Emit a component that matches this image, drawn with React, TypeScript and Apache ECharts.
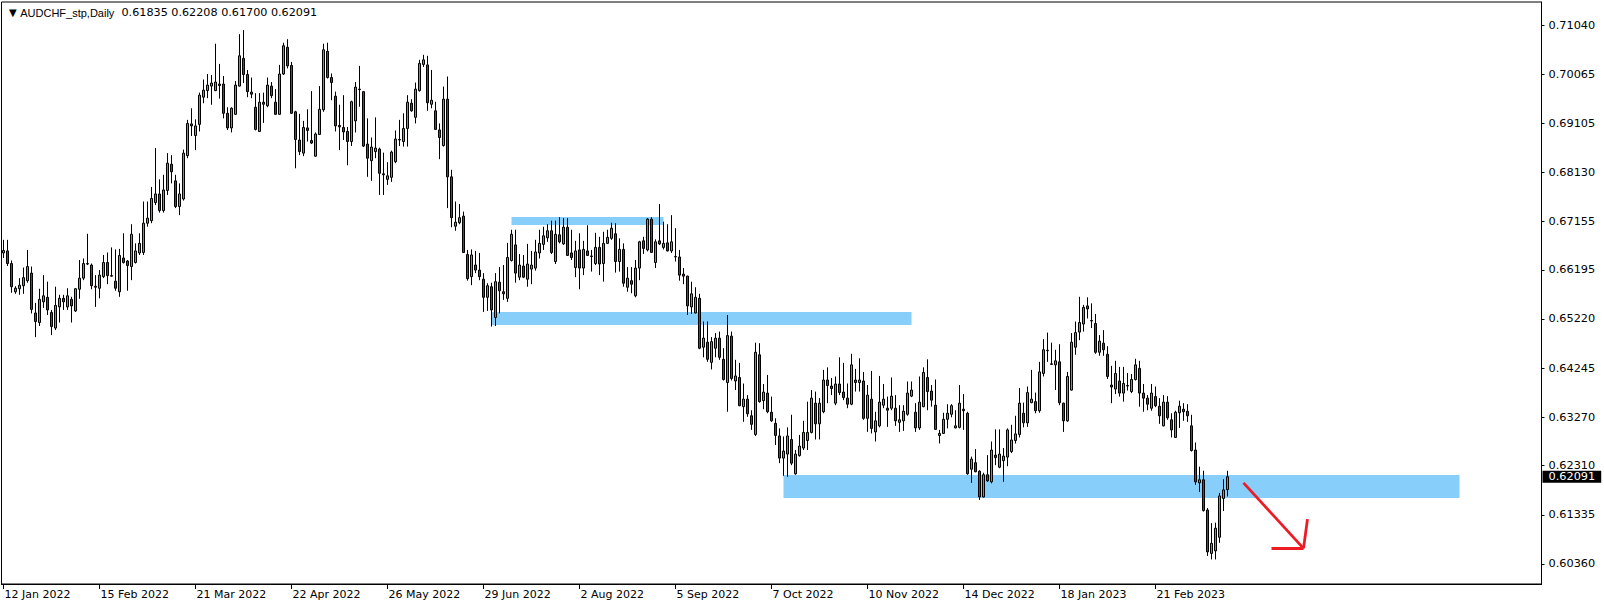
import React, { useEffect, useRef } from "react";
import * as echarts from "echarts";

// ---- data (daily AUDCHF candles) ----
const startDate = "2022-01-12";
const xTickLabels = [
  "12 Jan 2022", "15 Feb 2022", "21 Mar 2022", "22 Apr 2022", "26 May 2022",
  "29 Jun 2022", "2 Aug 2022", "5 Sep 2022", "7 Oct 2022", "10 Nov 2022",
  "14 Dec 2022", "18 Jan 2023", "21 Feb 2023",
];
const yTickLabels = [
  "0.60360", "0.61335", "0.62310", "0.63270", "0.64245", "0.65220",
  "0.66195", "0.67155", "0.68130", "0.69105", "0.70065", "0.71040",
];

const opens = [
  0.6653,0.6657,0.6632,0.6576,0.6582,0.6588,0.6598,0.6613,0.6534,0.6515,
  0.6556,0.6565,0.6535,0.6504,0.6546,0.6563,0.6546,0.6561,0.6538,0.6581,
  0.6603,0.6631,0.6629,0.6587,0.6583,0.6606,0.6634,0.6608,0.6597,0.6576,
  0.6643,0.6637,0.6626,0.6634,0.6653,0.6654,0.6712,0.6717,0.6753,0.6770,
  0.6737,0.6777,0.6829,0.6796,0.6745,0.6760,0.6846,0.6909,0.6886,0.6908,
  0.6962,0.6975,0.6984,0.6975,0.6988,0.6988,0.6930,0.6901,0.6928,0.6984,
  0.7039,0.7007,0.6972,0.6942,0.6894,0.6952,0.6945,0.6984,0.6952,0.6928,
  0.7008,0.7061,0.7025,0.6933,0.6877,0.6851,0.6901,0.6876,0.6845,0.6888,
  0.6937,0.7053,0.7001,0.6964,0.6906,0.6902,0.6894,0.6874,0.6915,0.6978,
  0.6973,0.6869,0.6836,0.6854,0.6859,0.6810,0.6799,0.6803,0.6834,0.6877,
  0.6874,0.6900,0.6950,0.6922,0.6975,0.7027,0.7026,0.6948,0.6935,0.6897,
  0.6866,0.6958,0.6804,0.6706,0.6713,0.6726,0.6650,0.6606,0.6629,0.6619,
  0.6601,0.6565,0.6586,0.6525,0.6595,0.6576,0.6563,0.6638,0.6669,0.6605,
  0.6627,0.6601,0.6621,0.6623,0.6653,0.6670,0.6683,0.6697,0.6636,0.6689,
  0.6671,0.6704,0.6653,0.6624,0.6659,0.6623,0.6657,0.6647,0.6632,0.6664,
  0.6632,0.6672,0.6682,0.6691,0.6636,0.6660,0.6585,0.6598,0.6568,0.6623,
  0.6677,0.6659,0.6720,0.6634,0.6677,0.6664,0.6673,0.6657,0.6646,0.6645,
  0.6611,0.6607,0.6546,0.6534,0.6563,0.6466,0.6476,0.6436,0.6464,0.6484,
  0.6442,0.6396,0.6488,0.6399,0.6406,0.6348,0.6363,0.6330,0.6293,0.6451,
  0.6360,0.6375,0.6337,0.6315,0.6290,0.6246,0.6254,0.6283,0.6215,0.6251,
  0.6266,0.6281,0.6297,0.6355,0.6314,0.6338,0.6401,0.6389,0.6355,0.6393,
  0.6377,0.6365,0.6353,0.6401,0.6396,0.6399,0.6325,0.6363,0.6298,0.6310,
  0.6351,0.6345,0.6345,0.6345,0.6317,0.6320,0.6333,0.6369,0.6337,0.6306,
  0.6348,0.6406,0.6379,0.6351,0.6291,0.6295,0.6323,0.6333,0.6306,0.6307,
  0.6343,0.6335,0.6224,0.6237,0.6220,0.6169,0.6213,0.6199,0.6252,0.6228,
  0.6241,0.6248,0.6259,0.6281,0.6293,0.6335,0.6316,0.6356,0.6358,0.6340,
  0.6414,0.6460,0.6433,0.6431,0.6437,0.6355,0.6320,0.6381,0.6466,0.6496,
  0.6512,0.6548,0.6519,0.6513,0.6456,0.6474,0.6452,0.6391,0.6383,0.6399,
  0.6375,0.6390,0.6378,0.6402,0.6424,0.6375,0.6365,0.6345,0.6368,0.6349,
  0.6310,0.6357,0.6322,0.6287,0.6336,0.6343,0.6339,0.6310,0.6262,0.6197,
  0.6203,0.6143,0.6057,0.6062,0.6089,0.6166,0.61835,
];
const closes = [
  0.6658,0.6632,0.6586,0.6583,0.6589,0.6604,0.6626,0.6541,0.6517,0.6561,
  0.6568,0.6540,0.6507,0.6549,0.6563,0.6556,0.6568,0.6548,0.6582,0.6603,
  0.6632,0.6632,0.6588,0.6585,0.6609,0.6634,0.6608,0.6607,0.6583,0.6648,
  0.6634,0.6628,0.6690,0.6657,0.6672,0.6712,0.6722,0.6761,0.6770,0.6737,
  0.6778,0.6831,0.6814,0.6745,0.6770,0.6851,0.6910,0.6905,0.6905,0.6966,
  0.6976,0.6986,0.6990,0.6992,0.6985,0.6930,0.6901,0.6940,0.6986,0.7044,
  0.7007,0.6973,0.6968,0.6898,0.6952,0.6948,0.6986,0.6965,0.6928,0.7008,
  0.7064,0.7024,0.6930,0.6878,0.6854,0.6902,0.6896,0.6871,0.6889,0.6938,
  0.7056,0.7001,0.6991,0.6905,0.6903,0.6893,0.6874,0.6953,0.6982,0.6977,
  0.6865,0.6841,0.6863,0.6861,0.6811,0.6808,0.6806,0.6853,0.6879,0.6878,
  0.6900,0.6952,0.6935,0.6978,0.7029,0.7036,0.6951,0.6956,0.6898,0.6882,
  0.6958,0.6804,0.6723,0.6714,0.6723,0.6654,0.6602,0.6649,0.6619,0.6606,
  0.6565,0.6588,0.6540,0.6596,0.6578,0.6572,0.6644,0.6690,0.6613,0.6629,
  0.6605,0.6631,0.6629,0.6655,0.6672,0.6687,0.6697,0.6654,0.6690,0.6675,
  0.6704,0.6648,0.6644,0.6657,0.6623,0.6660,0.6648,0.6646,0.6664,0.6631,
  0.6672,0.6684,0.6702,0.6636,0.6660,0.6593,0.6603,0.6591,0.6623,0.6675,
  0.6662,0.6720,0.6654,0.6675,0.6671,0.6672,0.6657,0.6675,0.6645,0.6609,
  0.6607,0.6548,0.6572,0.6565,0.6464,0.6484,0.6442,0.6477,0.6484,0.6446,
  0.6402,0.6489,0.6404,0.6409,0.6350,0.6363,0.6334,0.6313,0.6456,0.6358,
  0.6377,0.6338,0.6320,0.6291,0.6246,0.6260,0.6290,0.6236,0.6254,0.6270,
  0.6297,0.6297,0.6365,0.6314,0.6355,0.6401,0.6390,0.6384,0.6393,0.6376,
  0.6366,0.6353,0.6431,0.6396,0.6401,0.6325,0.6371,0.6305,0.6320,0.6357,
  0.6363,0.6341,0.6369,0.6320,0.6322,0.6339,0.6375,0.6381,0.6306,0.6357,
  0.6416,0.6378,0.6361,0.6303,0.6295,0.6323,0.6335,0.6350,0.6310,0.6355,
  0.6340,0.6215,0.6244,0.6219,0.6169,0.6213,0.6201,0.6262,0.6247,0.6254,
  0.6250,0.6302,0.6282,0.6294,0.6355,0.6316,0.6376,0.6363,0.6340,0.6417,
  0.6461,0.6459,0.6432,0.6439,0.6356,0.6320,0.6408,0.6476,0.6495,0.6515,
  0.6545,0.6542,0.6518,0.6456,0.6478,0.6461,0.6408,0.6387,0.6414,0.6375,
  0.6394,0.6389,0.6402,0.6431,0.6375,0.6365,0.6353,0.6375,0.6350,0.6330,
  0.6357,0.6326,0.6302,0.6337,0.6349,0.6338,0.6330,0.6261,0.6199,0.6203,
  0.6142,0.6060,0.6077,0.6107,0.6171,0.6183,0.62091,
];
const lows = [
  0.6643,0.6627,0.6574,0.6572,0.6570,0.6572,0.6594,0.6533,0.6486,0.6508,
  0.6544,0.6530,0.6490,0.6500,0.6515,0.6540,0.6540,0.6515,0.6536,0.6562,
  0.6599,0.6629,0.6581,0.6546,0.6563,0.6603,0.6591,0.6606,0.6578,0.6566,
  0.6632,0.6578,0.6599,0.6632,0.6649,0.6649,0.6705,0.6712,0.6748,0.6733,
  0.6733,0.6768,0.6791,0.6742,0.6728,0.6757,0.6841,0.6885,0.6857,0.6894,
  0.6950,0.6960,0.6947,0.6974,0.6959,0.6920,0.6897,0.6892,0.6927,0.6983,
  0.6990,0.6962,0.6960,0.6896,0.6893,0.6911,0.6942,0.6960,0.6927,0.6927,
  0.7006,0.7019,0.6929,0.6821,0.6847,0.6845,0.6874,0.6869,0.6844,0.6887,
  0.6933,0.6999,0.6956,0.6894,0.6857,0.6877,0.6827,0.6865,0.6892,0.6943,
  0.6863,0.6804,0.6796,0.6841,0.6768,0.6768,0.6788,0.6794,0.6831,0.6865,
  0.6864,0.6864,0.6933,0.6910,0.6973,0.7022,0.6935,0.6940,0.6897,0.6839,
  0.6864,0.6742,0.6704,0.6697,0.6710,0.6653,0.6598,0.6589,0.6613,0.6599,
  0.6536,0.6538,0.6507,0.6508,0.6533,0.6560,0.6556,0.6636,0.6594,0.6599,
  0.6603,0.6586,0.6591,0.6618,0.6642,0.6659,0.6675,0.6651,0.6631,0.6672,
  0.6669,0.6647,0.6639,0.6605,0.6581,0.6609,0.6647,0.6616,0.6629,0.6609,
  0.6596,0.6671,0.6679,0.6614,0.6616,0.6586,0.6576,0.6573,0.6565,0.6599,
  0.6651,0.6656,0.6653,0.6623,0.6669,0.6660,0.6656,0.6653,0.6636,0.6598,
  0.6591,0.6530,0.6532,0.6533,0.6462,0.6446,0.6437,0.6422,0.6446,0.6441,
  0.6400,0.6338,0.6400,0.6381,0.6349,0.6318,0.6328,0.6302,0.6290,0.6356,
  0.6343,0.6335,0.6318,0.6272,0.6236,0.6211,0.6209,0.6232,0.6213,0.6249,
  0.6262,0.6262,0.6295,0.6283,0.6283,0.6335,0.6355,0.6371,0.6351,0.6371,
  0.6361,0.6345,0.6351,0.6378,0.6378,0.6322,0.6298,0.6295,0.6279,0.6307,
  0.6345,0.6308,0.6341,0.6310,0.6298,0.6300,0.6330,0.6367,0.6298,0.6302,
  0.6347,0.6341,0.6348,0.6302,0.6275,0.6294,0.6305,0.6327,0.6305,0.6305,
  0.6302,0.6213,0.6197,0.6218,0.6163,0.6168,0.6199,0.6196,0.6232,0.6226,
  0.6199,0.6230,0.6256,0.6275,0.6287,0.6307,0.6308,0.6355,0.6335,0.6336,
  0.6408,0.6437,0.6431,0.6381,0.6351,0.6298,0.6318,0.6380,0.6451,0.6480,
  0.6497,0.6523,0.6504,0.6453,0.6449,0.6449,0.6403,0.6355,0.6373,0.6368,
  0.6358,0.6380,0.6375,0.6400,0.6348,0.6338,0.6341,0.6340,0.6347,0.6314,
  0.6309,0.6322,0.6287,0.6286,0.6306,0.6320,0.6318,0.6259,0.6193,0.6179,
  0.6140,0.6052,0.6045,0.6045,0.6078,0.6141,0.61700,
];
const highs = [
  0.6679,0.6679,0.6638,0.6587,0.6603,0.6624,0.6659,0.6626,0.6554,0.6582,
  0.6609,0.6596,0.6540,0.6586,0.6570,0.6570,0.6583,0.6566,0.6583,0.6639,
  0.6642,0.6691,0.6632,0.6609,0.6619,0.6649,0.6654,0.6664,0.6660,0.6661,
  0.6692,0.6639,0.6710,0.6672,0.6692,0.6755,0.6755,0.6784,0.6861,0.6799,
  0.6808,0.6851,0.6847,0.6808,0.6791,0.6858,0.6917,0.6940,0.6918,0.6971,
  0.6997,0.7008,0.7006,0.7068,0.7028,0.7004,0.6942,0.6942,0.6994,0.7087,
  0.7095,0.7016,0.7001,0.6970,0.6970,0.6971,0.7001,0.6992,0.6978,0.7026,
  0.7070,0.7077,0.7032,0.6935,0.6929,0.6915,0.6938,0.6974,0.6892,0.6984,
  0.7068,0.7070,0.7009,0.6973,0.6947,0.6966,0.6903,0.6955,0.6992,0.7024,
  0.6974,0.6920,0.6882,0.6922,0.6862,0.6852,0.6833,0.6856,0.6896,0.6917,
  0.6930,0.6966,0.6958,0.6991,0.7036,0.7046,0.7044,0.7016,0.6953,0.6910,
  0.6983,0.7003,0.6818,0.6755,0.6750,0.6735,0.6659,0.6660,0.6657,0.6653,
  0.6613,0.6593,0.6594,0.6613,0.6625,0.6629,0.6673,0.6699,0.6699,0.6651,
  0.6649,0.6671,0.6657,0.6679,0.6699,0.6705,0.6710,0.6717,0.6717,0.6724,
  0.6722,0.6722,0.6699,0.6677,0.6692,0.6677,0.6708,0.6659,0.6693,0.6685,
  0.6695,0.6699,0.6713,0.6712,0.6682,0.6672,0.6625,0.6625,0.6639,0.6677,
  0.6685,0.6722,0.6724,0.6680,0.6750,0.6715,0.6710,0.6728,0.6702,0.6659,
  0.6623,0.6608,0.6596,0.6585,0.6572,0.6517,0.6517,0.6486,0.6494,0.6497,
  0.6464,0.6530,0.6497,0.6441,0.6435,0.6394,0.6371,0.6341,0.6475,0.6474,
  0.6393,0.6411,0.6368,0.6325,0.6305,0.6289,0.6307,0.6332,0.6262,0.6292,
  0.6320,0.6358,0.6381,0.6378,0.6365,0.6421,0.6426,0.6405,0.6408,0.6446,
  0.6435,0.6394,0.6453,0.6423,0.6444,0.6417,0.6391,0.6419,0.6338,0.6409,
  0.6393,0.6368,0.6406,0.6371,0.6351,0.6351,0.6398,0.6398,0.6355,0.6408,
  0.6426,0.6442,0.6391,0.6402,0.6302,0.6336,0.6353,0.6353,0.6341,0.6391,
  0.6373,0.6338,0.6249,0.6264,0.6222,0.6217,0.6252,0.6279,0.6303,0.6303,
  0.6266,0.6305,0.6312,0.6330,0.6385,0.6356,0.6388,0.6421,0.6376,0.6437,
  0.6482,0.6495,0.6475,0.6461,0.6472,0.6356,0.6417,0.6494,0.6517,0.6566,
  0.6550,0.6565,0.6553,0.6532,0.6490,0.6500,0.6468,0.6429,0.6439,0.6427,
  0.6427,0.6415,0.6413,0.6443,0.6439,0.6393,0.6371,0.6393,0.6388,0.6365,
  0.6371,0.6369,0.6335,0.6340,0.6360,0.6355,0.6353,0.6332,0.6277,0.6229,
  0.6221,0.6147,0.6117,0.6118,0.6177,0.6204,0.62208,
];

// horizontal zones: start bar, end bar, top price, bottom price
const zoneStarts = [127, 122, 195];
const zoneEnds = [165, 227, 364];
const zoneTops = [0.67244, 0.65359, 0.62126];
const zoneBottoms = [0.67084, 0.65100, 0.61670];

// red arrow segments: [bar, price] -> [bar, price]
const arrowFrom = [[310, 0.6197], [317, 0.6067], [326, 0.6125]];
const arrowTo = [[325, 0.6067], [325, 0.6067], [325, 0.6067]];

const lastPrice = 0.62091;
const symbolName = "AUDCHF_stp,Daily";
const headerPrices = ["0.61835", "0.62208", "0.61700", "0.62091"];

const SLOTS = 385;
const MONTHS = ["Jan","Feb","Mar","Apr","May","Jun","Jul","Aug","Sep","Oct","Nov","Dec"];

function weekdayCategories(start: string, n: number): string[] {
  const out: string[] = [];
  const d = new Date(start + "T00:00:00Z");
  while (out.length < n) {
    const wd = d.getUTCDay();
    if (wd !== 0 && wd !== 6) {
      out.push(`${d.getUTCDate()} ${MONTHS[d.getUTCMonth()]} ${d.getUTCFullYear()}`);
    }
    d.setUTCDate(d.getUTCDate() + 1);
  }
  return out;
}

const FONT = "DejaVu Sans";
const GREEN = "#1fd41f";
const RED = "#e01010";
const ZONE = "#87cefa";
const ARROW = "#ed1c24";

export default function App() {
  const ref = useRef<HTMLDivElement>(null);

  useEffect(() => {
    document.body.style.margin = "0";
    if (!ref.current) return;
    const chart = echarts.init(ref.current, null, { renderer: "svg" });
    const categories = weekdayCategories(startDate, SLOTS);
    const candles = opens.map((o, i) => [o, closes[i], lows[i], highs[i]]);
    const showTick = (index: number) => index % 24 === 0 && index / 24 < xTickLabels.length;

    const zones = zoneStarts.map((s, i) => [
      { coord: [s, zoneTops[i]] },
      { coord: [zoneEnds[i], zoneBottoms[i]] },
    ]);
    const arrowLines: any[] = arrowFrom.map((f, i) => [
      { coord: f, lineStyle: { color: ARROW, width: 2.8 }, label: { show: false } },
      { coord: arrowTo[i] },
    ]);

    chart.setOption({
      animation: false,
      backgroundColor: "#fff",
      title: {
        text: "{tri|▼} {name|" + symbolName + "}  " + headerPrices.join(" "),
        left: 4,
        top: 2,
        textStyle: {
          fontFamily: FONT,
          fontSize: 11.2,
          fontWeight: "normal",
          color: "#000",
          rich: {
            tri: { fontSize: 10, color: "#000", fontFamily: FONT },
            name: { fontSize: 11, color: "#000", fontFamily: "Liberation Sans" },
          },
        },
      },
      grid: {
        left: 1.5,
        right: 62.5,
        top: 2,
        bottom: 23,
        show: true,
        borderColor: "#000",
        borderWidth: 1,
        backgroundColor: "transparent",
        outerBoundsMode: "none",
      },
      xAxis: {
        type: "category",
        data: categories,
        boundaryGap: true,
        axisLine: { show: true, lineStyle: { color: "#000", width: 1 } },
        axisTick: {
          show: true,
          alignWithLabel: true,
          length: 5,
          interval: (index: number) => showTick(index),
          lineStyle: { color: "#000" },
        },
        axisLabel: {
          interval: (index: number) => showTick(index),
          formatter: (_v: string, index: number) => xTickLabels[index / 24] ?? "",
          align: "left",
          margin: 5,
          padding: [0, 0, 0, 1],
          color: "#000",
          fontFamily: FONT,
          fontSize: 11,
        },
        splitLine: { show: false },
      },
      yAxis: {
        type: "value",
        position: "right",
        min: 0.59963,
        max: 0.71508,
        scale: true,
        splitLine: { show: false },
        axisLine: { show: true, lineStyle: { color: "#000" } },
        axisTick: {
          show: true,
          length: 3,
          customValues: yTickLabels.map(Number),
          lineStyle: { color: "#000" },
        },
        axisLabel: {
          customValues: yTickLabels.map(Number),
          formatter: (v: number) => v.toFixed(5),
          margin: 7,
          color: "#000",
          fontFamily: FONT,
          fontSize: 11.3,
        },
      },
      series: [
        {
          type: "candlestick",
          data: candles,
          barWidth: 2,
          z: 2,
          itemStyle: {
            color: GREEN,
            color0: RED,
            borderColor: "#000",
            borderColor0: "#000",
            borderColorDoji: "#000",
            borderWidth: 1,
          },
          markArea: {
            silent: true,
            z: 1,
            itemStyle: { color: ZONE, opacity: 1, borderWidth: 0 },
            label: { show: false },
            data: zones,
          },
          markLine: {
            silent: true,
            z: 5,
            symbol: ["none", "none"],
            precision: 5,
            label: { show: false },
            lineStyle: { type: "solid" },
            data: arrowLines,
          },
        },
        {
          type: "line",
          data: [],
          silent: true,
          z: 6,
          markLine: {
            silent: true,
            symbol: ["none", "none"],
            precision: 5,
            lineStyle: { color: "rgba(0,0,0,0)", width: 1, type: "solid" },
            label: {
              show: true,
              position: "end",
              distance: 1,
              formatter: () => lastPrice.toFixed(5),
              color: "#fff",
              backgroundColor: "#000",
              padding: [1, 6, 0, 6],
              fontFamily: FONT,
              fontSize: 11.3,
            },
            data: [{ yAxis: lastPrice }],
          },
        },
      ],
    });

    return () => chart.dispose();
  }, []);

  return <div ref={ref} style={{ width: 1604, height: 607 }} />;
}
